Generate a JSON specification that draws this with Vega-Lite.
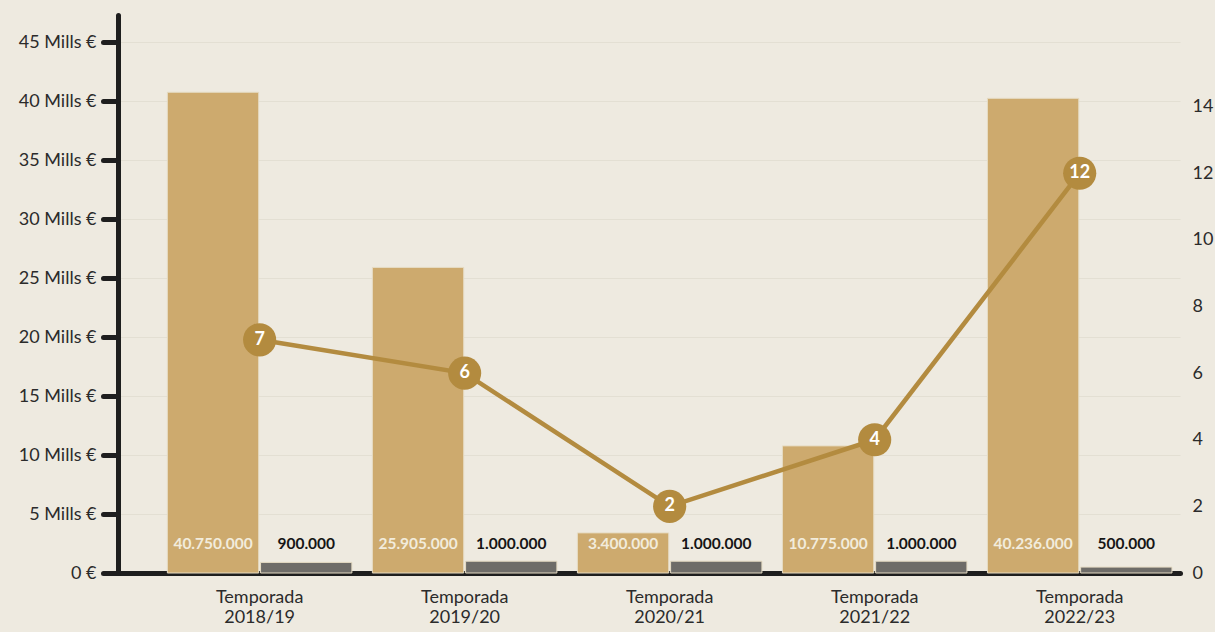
{
  "$schema": "https://vega.github.io/schema/vega-lite/v6.json",
  "width": 1062,
  "height": 558,
  "autosize": {"type": "none"},
  "padding": {"left": 118, "top": 15, "right": 35, "bottom": 59},
  "background": "#eeeae0",
  "data": {
    "values": [
      {"temporada": "Temporada 2018/19", "gasto": 40750000, "ingreso": 900000, "fichajes": 7},
      {"temporada": "Temporada 2019/20", "gasto": 25905000, "ingreso": 1000000, "fichajes": 6},
      {"temporada": "Temporada 2020/21", "gasto": 3400000, "ingreso": 1000000, "fichajes": 2},
      {"temporada": "Temporada 2021/22", "gasto": 10775000, "ingreso": 1000000, "fichajes": 4},
      {"temporada": "Temporada 2022/23", "gasto": 40236000, "ingreso": 500000, "fichajes": 12}
    ]
  },
  "encoding": {
    "x": {
      "field": "temporada",
      "type": "nominal",
      "sort": null,
      "scale": {"paddingInner": 0.1, "paddingOuter": 0.14, "align": 0.86},
      "axis": {
        "title": null,
        "labelAngle": 0,
        "labelExpr": "split(datum.label, ' ')",
        "labelFont": "Lato",
        "labelFontSize": 18,
        "labelColor": "#2b2b2b",
        "labelPadding": 15,
        "labelLineHeight": 20,
        "ticks": false,
        "domainColor": "#1e1e1e",
        "domainWidth": 5,
        "domainCap": "round",
        "grid": false
      }
    }
  },
  "layer": [
    {
      "transform": [{"fold": ["gasto", "ingreso"], "as": ["key", "value"]}],
      "encoding": {
        "xOffset": {"field": "key", "type": "nominal", "sort": ["gasto", "ingreso"], "scale": {"paddingInner": 0.02}}
      },
      "layer": [
        {
          "mark": {"type": "bar", "stroke": "#e6dcc4", "strokeWidth": 1},
          "encoding": {
            "y": {
              "field": "value",
              "type": "quantitative",
              "scale": {"domain": [0, 47300000], "nice": false, "zero": true},
              "axis": {
                "orient": "left",
                "title": null,
                "values": [0, 5000000, 10000000, 15000000, 20000000, 25000000, 30000000, 35000000, 40000000, 45000000],
                "labelExpr": "datum.value == 0 ? '0 €' : (datum.value / 1000000) + ' Mills €'",
                "labelFont": "Lato",
                "labelFontSize": 18,
                "labelColor": "#2b2b2b",
                "labelPadding": 7,
                "tickSize": 15,
                "tickWidth": 5,
                "tickCap": "round",
                "tickColor": "#1e1e1e",
                "domainColor": "#1e1e1e",
                "domainWidth": 5,
                "domainCap": "round",
                "grid": true,
                "gridColor": "#e3dfd3",
                "gridWidth": 1
              }
            },
            "color": {
              "condition": {"test": "datum.key == 'gasto'", "value": "#cdaa6e"},
              "value": "#6e6c68"
            }
          }
        },
        {
          "mark": {"type": "text", "font": "Lato", "fontSize": 15.5, "fontWeight": "bold", "baseline": "middle"},
          "encoding": {
            "y": {"datum": 2500000, "type": "quantitative"},
            "text": {"field": "value", "type": "quantitative", "format": ",d"},
            "color": {
              "condition": {"test": "datum.key == 'gasto'", "value": "#f2ecdc"},
              "value": "#151515"
            }
          }
        }
      ]
    },
    {
      "encoding": {
        "y": {
          "field": "fichajes",
          "type": "quantitative",
          "scale": {"domain": [0, 16.75], "nice": false},
          "axis": {
            "orient": "right",
            "title": null,
            "values": [0, 2, 4, 6, 8, 10, 12, 14],
            "labelFont": "Lato",
            "labelFontSize": 18,
            "labelColor": "#2b2b2b",
            "labelPadding": 12,
            "ticks": false,
            "domain": false,
            "grid": false
          }
        }
      },
      "layer": [
        {"mark": {"type": "line", "color": "#b38b3f", "strokeWidth": 4.5}},
        {"mark": {"type": "point", "filled": true, "shape": "circle", "size": 1100, "color": "#b38b3f", "opacity": 1}},
        {
          "mark": {"type": "text", "font": "Lato", "fontSize": 18, "fontWeight": "bold", "color": "#ffffff", "baseline": "middle"},
          "encoding": {"text": {"field": "fichajes", "type": "quantitative"}}
        }
      ]
    }
  ],
  "resolve": {"scale": {"y": "independent"}},
  "config": {
    "view": {"stroke": null},
    "locale": {"number": {"decimal": ",", "thousands": ".", "grouping": [3], "currency": ["", " €"]}}
  }
}
